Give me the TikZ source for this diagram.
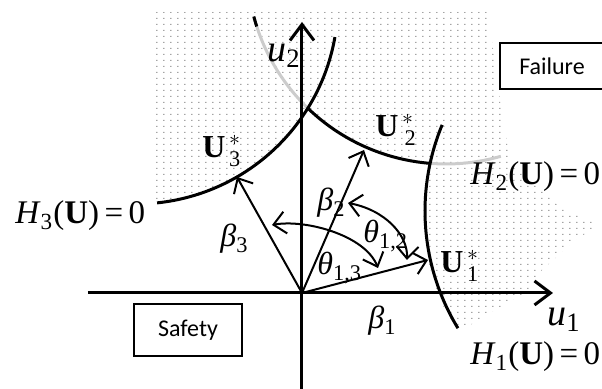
\documentclass[tikz,border=0pt]{standalone}
\usepackage{fontspec}
\setmainfont{Liberation Serif}
\newfontfamily\boxfont{Carlito}
\usetikzlibrary{arrows.meta,patterns.meta}
\pgfdeclarepattern{
  name=sparsedots,
  type=uncolored,
  bottom left={\pgfpoint{0pt}{0pt}},
  top right={\pgfpoint{3.35pt}{2.8pt}},
  tile size={\pgfpoint{3.35pt}{2.8pt}},
  code={\pgfpathrectangle{\pgfpoint{1.2pt}{1.1pt}}{\pgfpoint{0.6pt}{0.6pt}}\pgfusepath{fill}}
}

\begin{document}
\begin{tikzpicture}[x=0.5pt,y=-0.5pt,
  axis/.style={line width=1.5pt,-{Straight Barb[length=8pt,width=12pt]}},
  vec/.style={line width=1pt,-{Straight Barb[length=6pt,width=11pt]}},
  ang/.style={line width=1pt,{Straight Barb[length=6pt,width=11pt]}-{Straight Barb[length=6pt,width=11pt]}},
  limit/.style={line width=1.5pt},
  faded/.style={line width=1.5pt,black!20},
  lbl/.style={font=\fontsize{16}{19}\selectfont,inner sep=0pt,anchor=base west},
  eqn/.style={font=\fontsize{16.5}{20}\selectfont,inner sep=0pt,anchor=base west},
  axlbl/.style={font=\fontsize{19}{22}\selectfont,inner sep=0pt,anchor=base west},
  region/.style={draw,line width=0.75pt,fill=white,font=\boxfont\fontsize{12}{14}\selectfont}]
\useasboundingbox (0,0) rectangle (602,389);
\fill[pattern=sparsedots,pattern color=black!55]
  (155,12) -- (488,12) -- (500,100) -- (510,160) -- (560,207) -- (600,225) -- (575,240)
  -- (540,272) -- (530,290) -- (490,313) -- (462,330) -- (300,330) -- (155,215) -- cycle;
\fill[white] (150,206) -- (157,203) arc[start angle=84,end angle=32.2,radius=202]
  arc[start angle=133.8,end angle=94.6,radius=199]
  arc[start angle=192.6,end angle=148.6,radius=225] -- (470,389) -- (150,389) -- cycle;

\draw[faded] (446,-35) ++(164.8:199) arc[start angle=164.8,end angle=133.8,radius=199];
\draw[faded] (446,-35) ++(94.6:199) arc[start angle=94.6,end angle=74,radius=199];
\draw[limit] (446,-35) ++(165:199) arc[start angle=165,end angle=162,radius=199];
\draw[limit] (446,-35) ++(133.8:199) arc[start angle=133.8,end angle=94.6,radius=199];
\draw[limit] (136,2) ++(84:202) arc[start angle=84,end angle=10,radius=202];
\draw[limit] (650,211) ++(202.5:225) arc[start angle=202.5,end angle=148.6,radius=225];

\coordinate (O) at (302,293);
\coordinate (u1tail) at (88,293);
\coordinate (u1head) at (553,293);
\coordinate (u2tail) at (302,389);
\coordinate (u2head) at (302,22);
\coordinate (U1) at (428,260);
\coordinate (U2) at (364,150);
\coordinate (U3) at (237,177);
\coordinate (t12a) at (348,203);
\coordinate (t12b) at (407,260);
\coordinate (t13a) at (272,225);
\coordinate (t13b) at (378,268);

\draw[axis] (u1tail) -- (u1head);
\draw[axis] (u2tail) -- (u2head);
\draw[vec] (O) -- (U1);
\draw[vec] (O) -- (U2);
\draw[vec] (O) -- (U3);
\draw[ang] (t12a) .. controls (385,210) and (408,235) .. (t12b);
\draw[ang] (t13a) .. controls (305,219) and (365,235) .. (t13b);

\node[axlbl] (u1lbl) at (547,326) {\textit{u}\textsubscript{1}};
\node[axlbl] (u2lbl) at (267,62) {\textit{u}\textsubscript{2}};
\node[lbl] (U1lbl) at (440,273) {$\mathbf{U}^{\,*}_{\,\mathrm{1}}$};
\node[lbl] (U2lbl) at (375,137) {$\mathbf{U}^{\,*}_{\;\mathrm{2}}$};
\node[lbl] (U3lbl) at (202,158) {$\mathbf{U}^{\,*}_{\,\mathrm{3}}$};
\node[lbl] (b1lbl) at (368,329) {\textit{β}\textsubscript{1}};
\node[lbl] (b2lbl) at (317,211) {\textit{β}\textsubscript{2}};
\node[lbl] (b3lbl) at (220,247) {\textit{β}\textsubscript{3}};
\node[lbl] (t12lbl) at (363,243) {\textit{θ}\textsubscript{1,2}};
\node[lbl] (t13lbl) at (317,275) {\textit{θ}\textsubscript{1,3}};
\node[eqn] (H1lbl) at (470,365) {\textit{H}\textsubscript{1}(\textbf{U})\,=\,0};
\node[eqn] (H2lbl) at (470,185) {\textit{H}\textsubscript{2}(\textbf{U})\,=\,0};
\node[eqn] (H3lbl) at (15,224) {\textit{H}\textsubscript{3}(\textbf{U})\,=\,0};
\node[region,minimum width=52pt,minimum height=23pt] (failure) at (552,66) {Failure};
\node[region,minimum width=54pt,minimum height=26pt] (safety) at (188,330) {Safety};
\end{tikzpicture}
\end{document}
